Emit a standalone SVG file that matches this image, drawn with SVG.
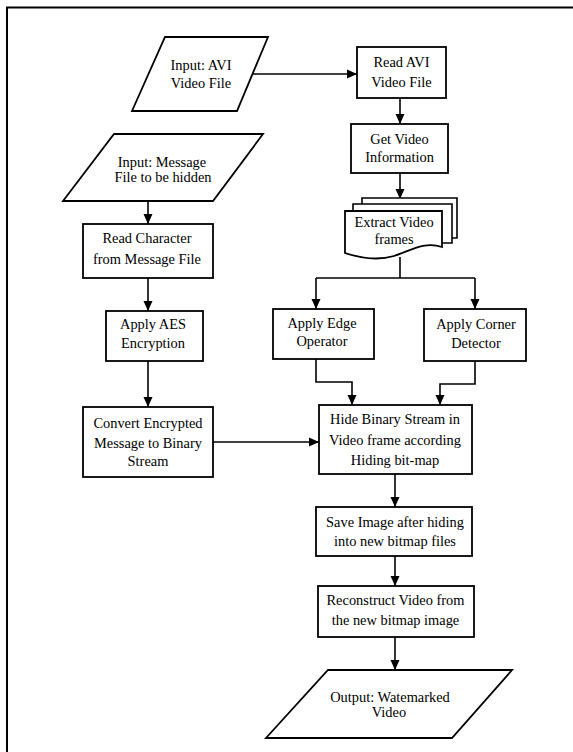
<svg xmlns="http://www.w3.org/2000/svg" width="573" height="752" viewBox="0 0 573 752">
<style>
.shape{fill:#fff;stroke:#000;stroke-width:1.8}
.sheet{fill:#fff;stroke:#000;stroke-width:1.6}
.edge{fill:none;stroke:#000;stroke-width:1.6}
text{font-family:"Liberation Serif","Times New Roman",serif;font-size:14.4px;fill:#000;text-anchor:middle}
</style>
<defs>
<marker id="arr" markerUnits="userSpaceOnUse" markerWidth="10" markerHeight="10" refX="10" refY="5" orient="auto">
<path d="M0,0.5 L10,5 L0,9.5 Z" fill="#000"/>
</marker>
</defs>
<rect x="0" y="0" width="573" height="752" fill="#fff"/>
<path d="M7,760 V7.5 H580" fill="none" stroke="#000" stroke-width="2"/>

<g id="connectors">
<line class="edge" x1="252.5" y1="74" x2="357" y2="74" marker-end="url(#arr)"/>
<line class="edge" x1="400" y1="98" x2="400" y2="124" marker-end="url(#arr)"/>
<line class="edge" x1="400" y1="173" x2="400" y2="199" marker-end="url(#arr)"/>
<line class="edge" x1="148" y1="201" x2="148" y2="224" marker-end="url(#arr)"/>
<line class="edge" x1="148" y1="278" x2="148" y2="311" marker-end="url(#arr)"/>
<line class="edge" x1="148" y1="361" x2="148" y2="407" marker-end="url(#arr)"/>
<line class="edge" x1="400" y1="257" x2="400" y2="278"/>
<path class="edge" d="M316,278 H475"/>
<line class="edge" x1="316" y1="278" x2="316" y2="309" marker-end="url(#arr)"/>
<line class="edge" x1="475" y1="278" x2="475" y2="309" marker-end="url(#arr)"/>
<path class="edge" d="M316,359 V382 H352 V405" marker-end="url(#arr)"/>
<path class="edge" d="M475,361 V384 H440 V405" marker-end="url(#arr)"/>
<line class="edge" x1="213" y1="442" x2="319" y2="442" marker-end="url(#arr)"/>
<line class="edge" x1="395" y1="474" x2="395" y2="507" marker-end="url(#arr)"/>
<line class="edge" x1="395" y1="556" x2="395" y2="586" marker-end="url(#arr)"/>
<line class="edge" x1="395" y1="637" x2="395" y2="670" marker-end="url(#arr)"/>
</g>

<g id="input-avi">
<polygon class="shape" points="165,37 268,37 237,111 132,111"/>
<text x="201" y="70">Input: AVI</text>
<text x="201" y="88">Video File</text>
</g>

<g id="read-avi">
<rect class="shape" x="357" y="47" width="89" height="51"/>
<text x="401.5" y="67">Read AVI</text>
<text x="401.5" y="87">Video File</text>
</g>

<g id="get-info">
<rect class="shape" x="351" y="124" width="97" height="49"/>
<text x="399.5" y="144">Get Video</text>
<text x="399.5" y="162">Information</text>
</g>

<g id="extract-frames">
<path class="sheet" d="M362,204 V198 H457 V238 H452"/>
<path class="sheet" d="M353,211 V204 H452 V243 H442"/>
<path class="shape" d="M345,211 H442 V247 C424,241 410,251 394,256 C377,261 360,258 345,253 Z"/>
<text x="394" y="227">Extract Video</text>
<text x="394" y="244">frames</text>
</g>

<g id="input-message">
<polygon class="shape" points="114,134 263,134 213,201 63,201"/>
<text x="162" y="167">Input: Message</text>
<text x="163" y="182">File to be hidden</text>
</g>

<g id="read-char">
<rect class="shape" x="83" y="224" width="130" height="54"/>
<text x="147" y="243">Read Character</text>
<text x="147" y="264">from Message File</text>
</g>

<g id="aes">
<rect class="shape" x="106" y="311" width="97" height="50"/>
<text x="153" y="329">Apply AES</text>
<text x="153" y="348">Encryption</text>
</g>

<g id="convert">
<rect class="shape" x="83" y="407" width="130" height="70"/>
<text x="148" y="428">Convert Encrypted</text>
<text x="148" y="448">Message to Binary</text>
<text x="148" y="466">Stream</text>
</g>

<g id="edge-op">
<rect class="shape" x="273" y="309" width="101" height="50"/>
<text x="322" y="328">Apply Edge</text>
<text x="322" y="346">Operator</text>
</g>

<g id="corner">
<rect class="shape" x="424" y="309" width="102" height="52"/>
<text x="476" y="329">Apply Corner</text>
<text x="476" y="348">Detector</text>
</g>

<g id="hide">
<rect class="shape" x="319" y="405" width="153" height="69"/>
<text x="395" y="424">Hide Binary Stream in</text>
<text x="395" y="445">Video frame according</text>
<text x="395" y="465">Hiding bit-map</text>
</g>

<g id="save">
<rect class="shape" x="316" y="507" width="156" height="49"/>
<text x="395" y="527">Save Image after hiding</text>
<text x="395" y="546">into new bitmap files</text>
</g>

<g id="reconstruct">
<rect class="shape" x="318" y="586" width="156" height="51"/>
<text x="395.5" y="605">Reconstruct Video from</text>
<text x="395.5" y="625">the new bitmap image</text>
</g>

<g id="output">
<polygon class="shape" points="328,670 512,670 452,738 266,738"/>
<text x="390" y="702">Output: Watemarked</text>
<text x="389" y="717">Video</text>
</g>
</svg>
